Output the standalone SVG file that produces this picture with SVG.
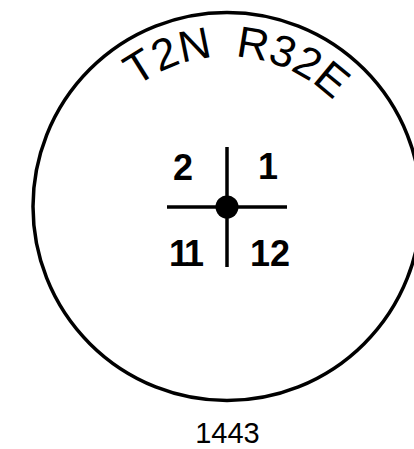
<svg xmlns="http://www.w3.org/2000/svg" width="414" height="449" viewBox="0 0 414 449">
<style>
.ln{stroke:#000;stroke-width:3.5;fill:none}
.lab{font-family:"Liberation Sans",Arial,sans-serif;fill:#000;text-anchor:middle}
.in{font-size:36px;font-weight:bold}
</style>
<defs>
<path id="arc" d="M 77 206.5 A 150 150 0 0 1 377 206.5"/>
</defs>
<rect width="414" height="449" fill="#fff"/>
<g id="township">
<circle class="ln" cx="227" cy="206.5" r="194" stroke-width="4"/>
<text class="lab" font-size="44" word-spacing="10"><textPath href="#arc" startOffset="246" text-anchor="middle">T2N R32E</textPath></text>
</g>
<g id="connectors">
<line class="ln" x1="167" y1="207" x2="287" y2="207"/>
<line class="ln" x1="227" y1="147" x2="227" y2="267"/>
</g>
<g id="corner">
<circle cx="227" cy="207" r="11.5" fill="#000"/>
</g>
<g id="sections">
<text class="lab in" x="183" y="180">2</text>
<text class="lab in" x="268" y="179">1</text>
<text class="lab in" x="185" y="266" letter-spacing="-3">11</text>
<text class="lab in" x="270" y="266">12</text>
</g>
<text class="lab" x="227.5" y="443" font-size="29">1443</text>
</svg>
